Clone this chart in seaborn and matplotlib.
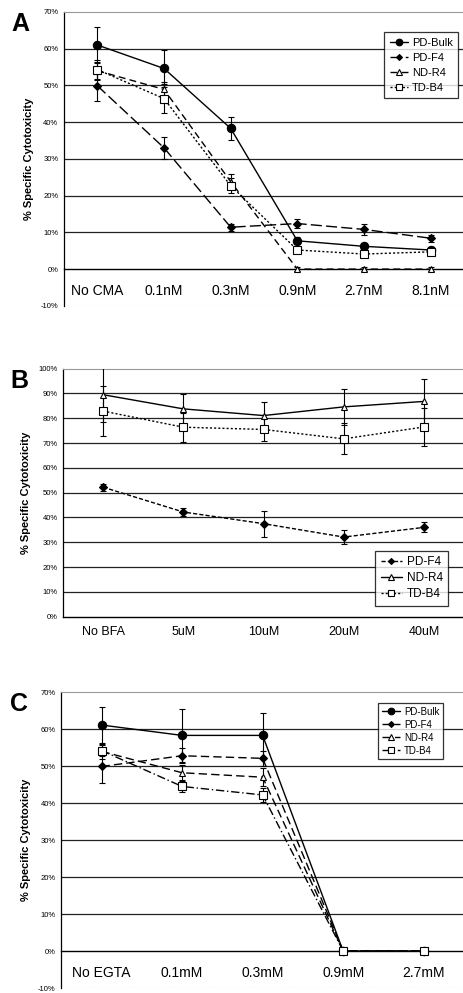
import numpy as np
import pandas as pd
import seaborn as sns
import matplotlib.pyplot as plt
from matplotlib.ticker import FixedLocator

sns.set_style("white")
plt.rcParams["font.family"] = ["Liberation Sans", "DejaVu Sans"]
plt.rcParams["text.color"] = "black"
plt.rcParams["axes.labelcolor"] = "black"
plt.rcParams["xtick.color"] = "black"
plt.rcParams["ytick.color"] = "black"

# panel A: CMA
cats_a = ["No CMA", "0.1nM", "0.3nM", "0.9nM", "2.7nM", "8.1nM"]
a_bulk = [61.0, 54.6, 38.3, 7.7, 6.2, 5.2]
a_bulk_err = [5.0, 5.0, 3.2, 1.0, 0.8, 0.8]
a_f4 = [49.9, 33.0, 11.4, 12.4, 10.8, 8.4]
a_f4_err = [4.2, 3.0, 1.0, 1.2, 1.5, 1.0]
a_r4 = [54.0, 48.9, 23.8, 0.0, 0.0, 0.0]
a_r4_err = [2.5, 2.0, 2.0, 0.5, 0.5, 0.5]
a_b4 = [54.3, 46.4, 22.7, 5.2, 4.1, 4.7]
a_b4_err = [2.5, 4.0, 2.0, 0.8, 0.8, 0.8]

# panel B: BFA
cats_b = ["No BFA", "5uM", "10uM", "20uM", "40uM"]
b_f4 = [52.2, 42.2, 37.5, 32.1, 36.0]
b_f4_err = [1.5, 1.5, 5.3, 3.0, 2.0]
b_r4 = [89.5, 83.8, 81.1, 84.6, 86.8]
b_r4_err = [11.0, 6.0, 5.4, 7.2, 9.0]
b_b4 = [82.9, 76.4, 75.5, 71.7, 76.5]
b_b4_err = [10.0, 5.8, 4.8, 6.3, 7.8]

# panel C: EGTA
cats_c = ["No EGTA", "0.1mM", "0.3mM", "0.9mM", "2.7mM"]
c_bulk = [61.1, 58.3, 58.3, 0.0, 0.0]
c_bulk_err = [4.8, 7.2, 6.0, 0.3, 0.3]
c_f4 = [49.9, 52.8, 52.1, 0.0, 0.0]
c_f4_err = [4.5, 2.0, 2.0, 0.3, 0.3]
c_r4 = [54.0, 48.2, 47.0, 0.0, 0.0]
c_r4_err = [2.0, 2.0, 2.5, 0.3, 0.3]
c_b4 = [54.2, 44.5, 42.2, 0.0, 0.0]
c_b4_err = [1.5, 1.5, 1.8, 0.3, 0.3]

MARK = {
    "PD-Bulk": dict(marker="o", markersize=6, markerfacecolor="black"),
    "PD-F4": dict(marker="D", markersize=3.8, markerfacecolor="black"),
    "ND-R4": dict(marker="^", markersize=5, markerfacecolor="white"),
    "TD-B4": dict(marker="s", markersize=6, markerfacecolor="white"),
}


def draw(ax, cats, series, ylo, yhi, below_zero):
    for name, vals, err, ls in series:
        df = pd.DataFrame({"x": cats, "y": vals})
        ax.errorbar(cats, vals, yerr=err, fmt="none", ecolor="black",
                    elinewidth=0.8, capsize=2.2, capthick=0.8, zorder=3)
        sns.lineplot(data=df, x="x", y="y", ax=ax, sort=False, errorbar=None,
                     color="black", linestyle=ls, linewidth=1.0,
                     markeredgecolor="black", markeredgewidth=0.8,
                     label=name, zorder=4, **MARK[name])
    n = len(cats)
    ax.set_xlim(-0.5, n - 0.5)
    ax.set_ylim(ylo, yhi)
    yt = np.arange(ylo, yhi + 1, 10)
    ax.set_yticks(yt)
    ax.set_yticklabels([f"{v}%" for v in yt], fontsize=5.5)
    for v in yt:
        if v in (0, ylo, yhi):
            continue
        ax.axhline(v, color="#222222", lw=0.9, zorder=1)
    ax.set_xticks(range(n))
    ax.set_xticklabels(cats, fontsize=9)
    ax.xaxis.set_minor_locator(FixedLocator(np.arange(0.5, n - 0.5, 1)))
    ax.tick_params(axis="x", which="major", length=0,
                   pad=11 if below_zero else 7)
    ax.tick_params(axis="x", which="minor", length=3, width=0.8,
                   direction="out", color="black")
    ax.tick_params(axis="y", length=2, width=0.6, pad=2, direction="out")
    ax.set_xlabel("")
    ax.set_ylabel("% Specific Cytotoxicity", fontsize=8, fontweight="bold",
                  labelpad=5)
    for s in ("top", "right"):
        ax.spines[s].set_linestyle((0, (1, 1)))
        ax.spines[s].set_color("#999999")
        ax.spines[s].set_linewidth(0.8)
    ax.spines["left"].set_color("black")
    ax.spines["left"].set_linewidth(0.9)
    ax.spines["bottom"].set_color("black")
    ax.spines["bottom"].set_linewidth(1.0)
    if below_zero:
        ax.spines["bottom"].set_position(("data", 0))
        ax.axhline(ylo, color="#999999", lw=0.8, ls=(0, (1, 1)), zorder=1)


def style_legend(leg):
    leg.get_frame().set_edgecolor("black")
    leg.get_frame().set_linewidth(0.9)
    for h in leg.legend_handles:
        h.set_markersize(h.get_markersize() * 0.8)


fig = plt.figure(figsize=(4.64, 9.93), dpi=100)

ax_a = fig.add_axes([0.138, 0.692, 0.862, 0.296])
draw(ax_a, cats_a, [
    ("PD-Bulk", a_bulk, a_bulk_err, "-"),
    ("PD-F4", a_f4, a_f4_err, (0, (8, 3))),
    ("ND-R4", a_r4, a_r4_err, (0, (5, 3))),
    ("TD-B4", a_b4, a_b4_err, (0, (1.5, 1.5))),
], -10, 70, True)
style_legend(ax_a.legend(loc="upper right", bbox_to_anchor=(1.0, 0.95),
                         fontsize=8, frameon=True, fancybox=False,
                         handlelength=1.6, handletextpad=0.4, borderpad=0.5,
                         labelspacing=0.45))

ax_b = fig.add_axes([0.136, 0.379, 0.864, 0.2497])
draw(ax_b, cats_b, [
    ("PD-F4", b_f4, b_f4_err, (0, (3, 1.5))),
    ("ND-R4", b_r4, b_r4_err, "-"),
    ("TD-B4", b_b4, b_b4_err, (0, (1.5, 1.5))),
], 0, 100, False)
style_legend(ax_b.legend(loc="lower right", bbox_to_anchor=(0.975, 0.02),
                         fontsize=8.5, frameon=True, fancybox=False,
                         handlelength=1.8, handletextpad=0.4, borderpad=0.45,
                         labelspacing=0.35))

ax_c = fig.add_axes([0.132, 0.005, 0.868, 0.298])
draw(ax_c, cats_c, [
    ("PD-Bulk", c_bulk, c_bulk_err, "-"),
    ("PD-F4", c_f4, c_f4_err, (0, (6, 3))),
    ("ND-R4", c_r4, c_r4_err, (0, (6, 3))),
    ("TD-B4", c_b4, c_b4_err, (0, (6, 2, 1, 2))),
], -10, 70, True)
style_legend(ax_c.legend(loc="upper right", bbox_to_anchor=(0.96, 0.98),
                         fontsize=7, frameon=True, fancybox=False,
                         handlelength=1.8, handletextpad=0.4, borderpad=0.4,
                         labelspacing=0.3))

fig.text(0.025, 0.988, "A", fontsize=18, fontweight="bold", va="top")
fig.text(0.022, 0.628, "B", fontsize=18, fontweight="bold", va="top")
fig.text(0.022, 0.303, "C", fontsize=18, fontweight="bold", va="top")

fig.savefig("out.png", dpi=100)
